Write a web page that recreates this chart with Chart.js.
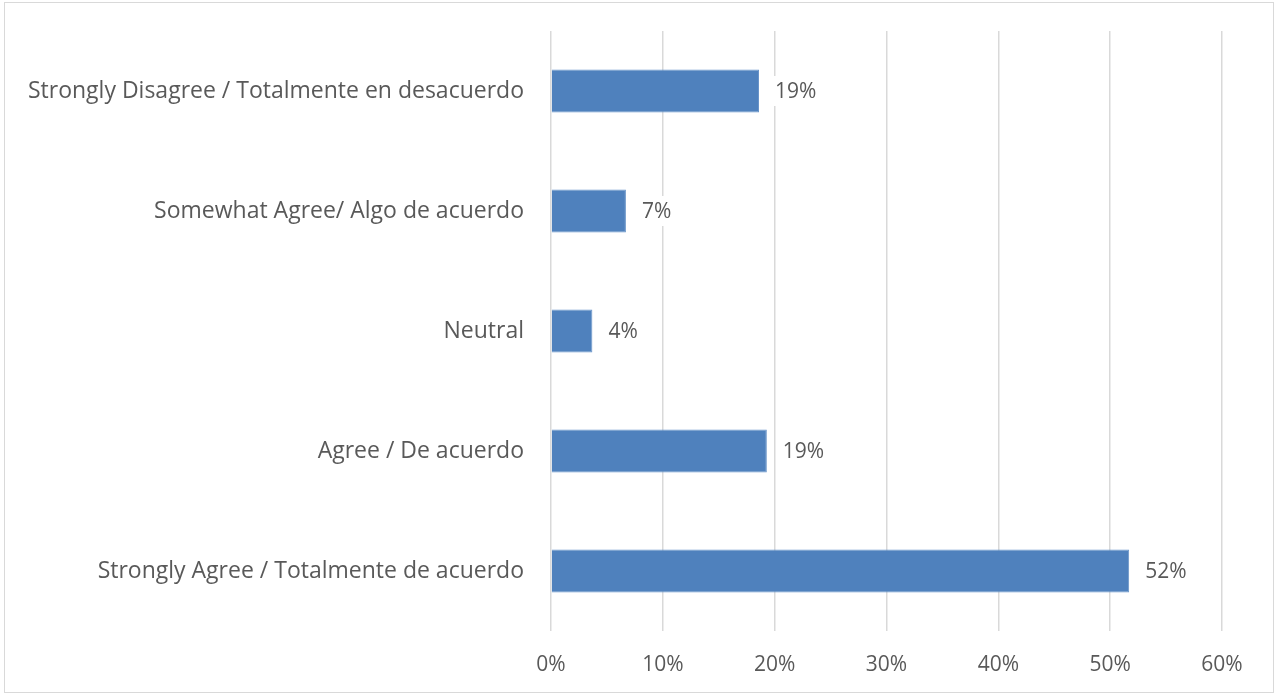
<!DOCTYPE html>
<html>
<head>
<meta charset="utf-8">
<script src="https://cdn.jsdelivr.net/npm/chart.js@4"></script>
<style>
    html, body { margin: 0; padding: 0; background: #fff; }
    #wrap { position: relative; width: 1279px; height: 695px; }
    #frame {
        position: absolute; left: 4px; top: 2px; width: 1270px; height: 691px;
        box-sizing: border-box; border: 1px solid #d9d9d9; pointer-events: none;
    }
    canvas { position: absolute; left: 0; top: 0; }
</style>
</head>
<body>
<div id="wrap">
    <canvas id="chart" width="1279" height="695"></canvas>
    <div id="frame"></div>
</div>
<script>
const categories = [
    'Strongly Disagree / Totalmente en desacuerdo',
    'Somewhat Agree/ Algo de acuerdo',
    'Neutral',
    'Agree / De acuerdo',
    'Strongly Agree / Totalmente de acuerdo'
];
const shares = [18.6, 6.7, 3.7, 19.3, 51.7];
const axisMax = 60;
const axisStep = 10;

const textColor = '#595959';
const fontFamily = '"Open Sans", "Liberation Sans", sans-serif';

// value labels next to each bar, on a white box that hides the gridlines
const valueLabels = {
    id: 'valueLabels',
    afterDatasetsDraw(chart) {
        const ctx = chart.ctx;
        const meta = chart.getDatasetMeta(0);
        ctx.save();
        ctx.font = '21px ' + fontFamily;
        ctx.textBaseline = 'middle';
        meta.data.forEach((bar, i) => {
            const text = Math.round(shares[i]) + '%';
            const w = ctx.measureText(text).width;
            const x = bar.x + 16;
            ctx.fillStyle = '#fff';
            ctx.fillRect(x - 6, bar.y - 15, w + 12, 30);
            ctx.fillStyle = textColor;
            ctx.fillText(text, x, bar.y + 1);
        });
        ctx.restore();
    }
};

new Chart(document.getElementById('chart'), {
    type: 'bar',
    data: {
        labels: categories,
        datasets: [{
            data: shares,
            backgroundColor: '#4f81bd',
            borderColor: '#6a95c9',
            borderWidth: 1,
            categoryPercentage: 1,
            barPercentage: 0.36
        }]
    },
    options: {
        indexAxis: 'y',
        responsive: false,
        animation: false,
        layout: { padding: { left: 0, top: 31, right: 57, bottom: 0 } },
        plugins: { legend: { display: false }, tooltip: { enabled: false } },
        scales: {
            x: {
                min: 0,
                max: axisMax,
                border: { display: false },
                grid: { color: '#d9d9d9', lineWidth: 1.5, drawTicks: false },
                ticks: {
                    stepSize: axisStep,
                    padding: 21,
                    color: textColor,
                    font: { family: fontFamily, size: 21 },
                    callback: v => v + '%'
                },
                afterFit: s => { s.height = 64; s.paddingLeft = 0; s.paddingRight = 0; }
            },
            y: {
                border: { display: false },
                grid: { display: false, drawTicks: false },
                ticks: {
                    padding: 27,
                    color: textColor,
                    font: { family: fontFamily, size: 23 }
                },
                afterFit: s => { s.width = 551; s.paddingTop = 0; s.paddingBottom = 0; }
            }
        }
    },
    plugins: [valueLabels]
});
</script>
</body>
</html>
